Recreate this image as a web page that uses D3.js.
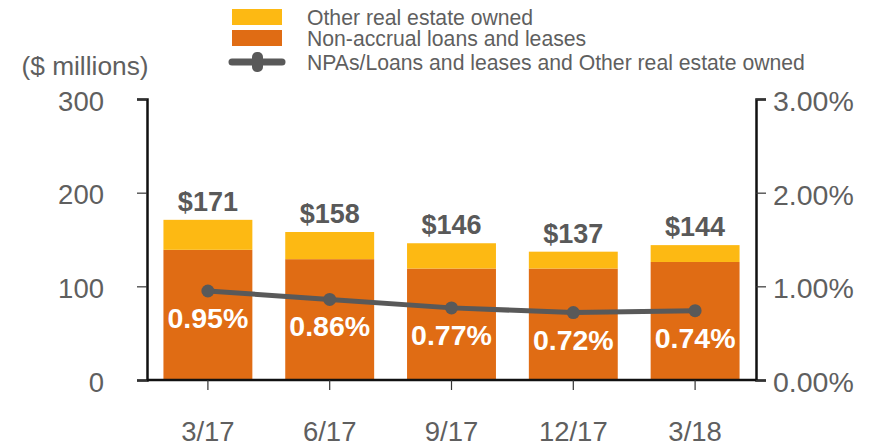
<!DOCTYPE html>
<html>
<head>
<meta charset="utf-8">
<script src="https://cdn.jsdelivr.net/npm/d3@7"></script>
<style>
  body { margin: 0; background: #fff; }
  svg { display: block; font-family: "Liberation Sans", Arial, sans-serif; }
</style>
</head>
<body>
<script>
const w = 872;
const h = 446;
const quarters = ["3/17", "6/17", "9/17", "12/17", "3/18"];
const nonAccrual = [139, 129, 119, 119, 126];
const otherRealEstate = [32, 29, 27, 18, 18];
const totals = [171, 158, 146, 137, 144];
const npaRatio = [0.95, 0.86, 0.77, 0.72, 0.74];
const leftTicks = [0, 100, 200, 300];
const rightTicks = [0, 1, 2, 3];

const yellow = "#FDB913";
const orange = "#E06C14";
const grey = "#595959";
const textGrey = "#5f5f5f";

const svg = d3.select("body").append("svg").attr("width", w).attr("height", h);

const xScale = d3.scaleBand()
  .domain(quarters)
  .range([147, 756])
  .paddingInner(0.27)
  .paddingOuter(0.135);
const yScale = d3.scaleLinear().domain([0, 300]).range([380, 99]);
const y2Scale = d3.scaleLinear().domain([0, 3]).range([380, 99]);

// bars
const rows = quarters.map((q, i) => ({
  q, nonAccrual: nonAccrual[i], other: otherRealEstate[i], total: totals[i], ratio: npaRatio[i]
}));

svg.append("g").selectAll("rect")
  .data(rows).enter().append("rect")
  .attr("x", (d) => xScale(d.q))
  .attr("width", xScale.bandwidth())
  .attr("y", (d) => yScale(d.nonAccrual))
  .attr("height", (d) => yScale(0) - yScale(d.nonAccrual))
  .attr("fill", orange);

svg.append("g").selectAll("rect")
  .data(rows).enter().append("rect")
  .attr("x", (d) => xScale(d.q))
  .attr("width", xScale.bandwidth())
  .attr("y", (d) => yScale(d.nonAccrual + d.other))
  .attr("height", (d) => yScale(d.nonAccrual) - yScale(d.nonAccrual + d.other))
  .attr("fill", yellow);

// totals above bars
svg.append("g").selectAll("text")
  .data(rows).enter().append("text")
  .attr("x", (d) => xScale(d.q) + xScale.bandwidth() / 2)
  .attr("y", (d) => yScale(d.total) - 9)
  .attr("text-anchor", "middle")
  .attr("font-size", 27)
  .attr("font-weight", "bold")
  .attr("fill", grey)
  .text((d) => "$" + d.total);

// ratio line
const cx = (d) => xScale(d.q) + xScale.bandwidth() / 2;
const line = d3.line().x(cx).y((d) => y2Scale(d.ratio));
svg.append("path")
  .datum(rows)
  .attr("d", line)
  .attr("fill", "none")
  .attr("stroke", grey)
  .attr("stroke-width", 5);
svg.append("g").selectAll("circle")
  .data(rows).enter().append("circle")
  .attr("cx", cx)
  .attr("cy", (d) => y2Scale(d.ratio))
  .attr("r", 6.5)
  .attr("fill", grey);

svg.append("g").selectAll("text")
  .data(rows).enter().append("text")
  .attr("x", cx)
  .attr("y", (d) => y2Scale(d.ratio) + 37)
  .attr("text-anchor", "middle")
  .attr("font-size", 28.5)
  .attr("font-weight", "bold")
  .attr("fill", "#fff")
  .text((d) => d.ratio.toFixed(2) + "%");

// axes
const leftAxis = d3.axisLeft(yScale).tickValues(leftTicks).tickSize(10).tickPadding(33);
const gl = svg.append("g").attr("transform", "translate(147,0)").call(leftAxis);
const rightAxis = d3.axisRight(y2Scale).tickValues(rightTicks).tickSize(10).tickPadding(7)
  .tickFormat((d) => d.toFixed(2) + "%");
const gr = svg.append("g").attr("transform", "translate(756,0)").call(rightAxis);
const bottomAxis = d3.axisBottom(xScale).tickSize(10).tickPadding(31);
const gb = svg.append("g").attr("transform", "translate(0,380)").call(bottomAxis);

[gl, gr, gb].forEach((g) => {
  g.select(".domain").attr("stroke", "#111").attr("stroke-width", 2.5);
  g.selectAll(".tick line").attr("stroke", "#333").attr("stroke-width", 1.2);
  g.selectAll(".tick text")
    .attr("fill", textGrey)
    .attr("font-size", 27.5)
    .attr("font-family", "'Liberation Sans', Arial, sans-serif");
});
gl.selectAll(".tick text").attr("dy", "0.4em");
gr.selectAll(".tick text").attr("dy", "0.4em").attr("font-size", 28.5);
gb.select(".domain").attr("d", "M147,0H756");

svg.append("text")
  .attr("x", 85)
  .attr("y", 75)
  .attr("text-anchor", "middle")
  .attr("font-size", 26.3)
  .attr("fill", textGrey)
  .text("($ millions)");

// legend
const legend = svg.append("g").attr("transform", "translate(232,0)");
legend.append("rect").attr("x", 0).attr("y", 9).attr("width", 50).attr("height", 16).attr("fill", yellow);
legend.append("rect").attr("x", 0).attr("y", 30).attr("width", 50).attr("height", 16).attr("fill", orange);
legend.append("line").attr("x1", 0).attr("x2", 50).attr("y1", 62).attr("y2", 62)
  .attr("stroke", grey).attr("stroke-width", 7).attr("stroke-linecap", "round");
legend.append("rect").attr("x", 20).attr("y", 52).attr("width", 11).attr("height", 20).attr("rx", 5)
  .attr("fill", grey);
const legendLabels = ["Other real estate owned", "Non-accrual loans and leases", "NPAs/Loans and leases and Other real estate owned"];
legend.selectAll("text.leg")
  .data(legendLabels).enter().append("text")
  .attr("class", "leg")
  .attr("x", 75)
  .attr("y", (d, i) => [17, 38, 62][i])
  .attr("dominant-baseline", "central")
  .attr("font-size", 21.2)
  .attr("fill", textGrey)
  .text((d) => d);
</script>
</body>
</html>
